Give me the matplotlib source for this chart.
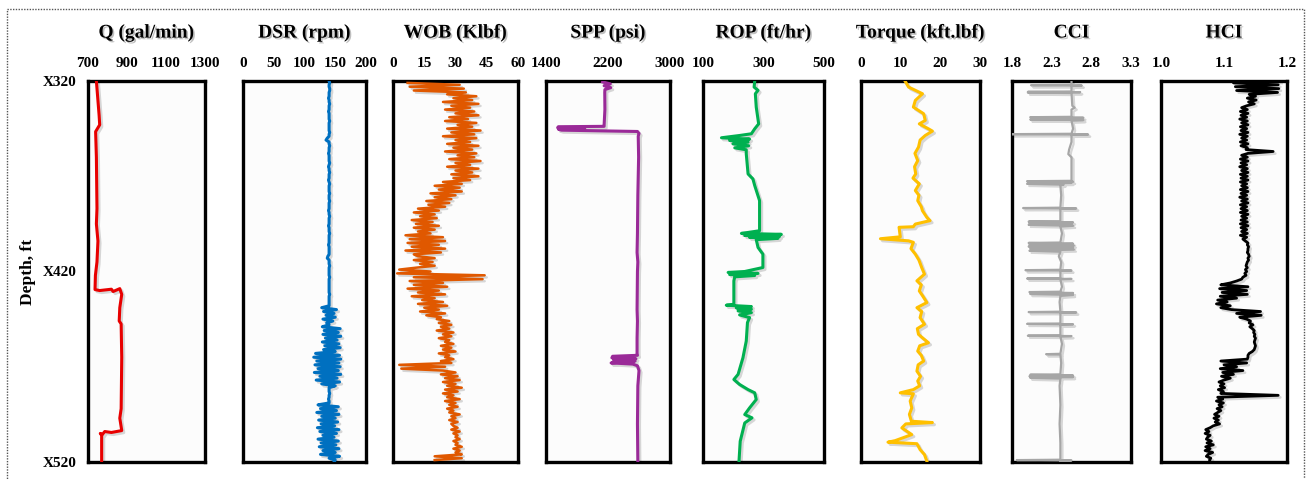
import numpy as np
import matplotlib.pyplot as plt
from matplotlib import patheffects as pe
from matplotlib.patches import Rectangle

plt.rcParams['font.family'] = ['Liberation Serif', 'DejaVu Serif']
plt.rcParams['font.weight'] = 'bold'
plt.rcParams['hatch.color'] = '#dadada'
plt.rcParams['hatch.linewidth'] = 0.6

# ---- data (depth in ft below X000) ----
q_log = [(320, 743), (338, 757), (343, 760), (346.6, 739), (360, 743), (387, 746),
         (395, 743), (404, 751), (415, 746), (422, 738), (429.5, 736), (430, 760),
         (429.3, 820), (430.5, 829), (429, 863), (432, 873), (439, 863), (446, 860),
         (447.5, 870), (465, 873), (492, 870), (497, 863), (503.5, 873), (504.5, 820),
         (504, 786), (505.5, 774), (505, 763), (506, 770), (520, 770)]

# DSR sampled every 1 ft from 320 to 520
dsr = [140, 141, 140, 140, 141, 141, 140, 140, 140, 139,
       140, 140, 141, 140, 140, 140, 139, 140, 140, 140,
       140, 141, 140, 140, 140, 140, 140, 141, 140, 140,
       137, 135, 140, 140, 141, 140, 140, 140, 139, 140,
       140, 140, 140, 141, 140, 139, 140, 140, 141, 140,
       140, 140, 139, 140, 141, 140, 140, 140, 140, 141,
       140, 140, 140, 141, 140, 140, 140, 140, 139, 140,
       140, 141, 140, 140, 140, 140, 139, 140, 140, 140,
       141, 140, 140, 140, 140, 140, 139, 140, 140, 140,
       140, 140, 138, 137, 140, 140, 140, 141, 140, 140,
       140, 140, 140, 141, 140, 140, 140, 140, 140, 140,
       140, 140, 141, 140, 140, 140, 140, 140, 140,
       128, 152, 131, 148, 135, 150, 130, 146, 136, 140,
       129, 158, 132, 155, 130, 159, 134, 153, 129, 156, 133, 158, 131, 150,
       118, 157, 115, 159, 120, 156, 117, 158, 122, 155, 116, 159, 125, 153, 119, 157, 128, 150, 140,
       140, 140, 141, 140, 140, 139, 140, 140,
       122, 155, 126, 152, 120, 156, 128, 150, 123, 154, 127, 149, 121, 156,
       125, 152, 130, 148, 122, 155, 127, 151, 124, 156, 130, 150, 126, 157,
       140, 150, 148]

# WOB sampled every 1 ft from 321
wob = [7, 32, 8, 34, 10, 35,
       26, 40, 29, 38, 24, 41, 28, 37, 25, 39,
       30, 41, 27, 36, 25, 40, 31, 38, 26, 42,
       28, 39, 24, 40, 30, 37, 26, 41, 29, 38,
       25, 40, 31, 39, 27, 42, 30, 37, 26, 41,
       30, 38, 28, 41, 29, 37, 24, 33, 20, 32,
       22, 33, 18, 30, 20, 28, 16, 27, 17, 25,
       12, 22, 10, 20, 13, 21, 9, 19, 11, 22, 10, 20, 12, 18,
       6, 24, 8, 25, 7, 22, 9, 25, 6, 23, 10,
       12, 20, 10, 19, 13, 20, 11,
       3, 18, 2,
       44, 10, 43,
       8, 24, 10, 26, 7, 22, 12, 25, 9, 20,
       14, 24, 12, 26, 15, 22, 13, 25, 16, 23,
       21, 27, 22, 28, 23, 27, 21, 29, 24, 28, 22, 27, 25, 29, 23, 28, 24, 30, 22, 27, 25, 29, 23, 28,
       3, 25, 4,
       24, 30, 23, 31, 25, 32, 24, 30, 26, 33, 25, 31, 24, 29, 26, 32, 25, 30, 27, 31, 26, 29, 27, 32, 28, 30, 27, 31, 28,
       29, 31, 28, 32, 29, 31, 30, 32, 29, 31, 30, 33, 29, 32, 30, 33, 20, 33, 20]

spp_log = [(320.5, 2130), (321.5, 2230), (322.5, 2150), (323.5, 2235), (324.5, 2160),
           (326, 2158), (335, 2160), (343, 2150), (343.8, 2150), (344, 1560), (344.5, 1550),
           (345, 1900), (345.3, 1560), (345.8, 1600), (346.2, 2150), (346.5, 2580),
           (347.5, 2600), (349, 2590), (360, 2595), (380, 2585), (400, 2580), (410, 2575),
           (415, 2585), (420, 2580), (440, 2575), (446, 2580), (455, 2575), (463, 2575),
           (464, 2580), (464.5, 2260), (465.3, 2250), (465.8, 2560), (466.3, 2270),
           (467, 2550), (468, 2240), (468.6, 2520), (469.5, 2580), (472, 2600), (480, 2585),
           (500, 2580), (520, 2585)]

rop_log = [(320, 271), (323.2, 269), (324.9, 282), (326.7, 273), (333.7, 276), (342.5, 284),
           (345.1, 271), (347.7, 260), (348.6, 221), (349.8, 161), (350.5, 254), (351.2, 188),
           (352.1, 249), (353, 199), (354, 251), (355.1, 205), (356.1, 243), (358.2, 243),
           (368.8, 249), (371.4, 265), (374.9, 271), (382.8, 287), (398.6, 287), (399.5, 249),
           (400, 227), (400.5, 359), (401.1, 238), (401.6, 353), (402.1, 254), (402.6, 348),
           (403.3, 276), (407.4, 282), (410.9, 298), (417.9, 298), (420, 238), (420.5, 183),
           (421, 282), (421.6, 188), (422.1, 271), (422.8, 205), (424.9, 202), (437.2, 202),
           (437.7, 177), (438.4, 260), (439.1, 210), (439.8, 260), (440.7, 216), (441.6, 260),
           (442.8, 221), (444.2, 254), (446.8, 247), (456.5, 243), (465.3, 232), (474, 216),
           (476.7, 202), (479.3, 221), (482, 249), (483.7, 271), (487.2, 276), (491.6, 254),
           (495.1, 238), (496.8, 262), (499.5, 238), (509.1, 223), (519.6, 219)]

torque_log = [(320, 11.1), (323.2, 12.0), (326.7, 15.5), (330.2, 13.7), (333.7, 13.2),
              (337.2, 15.8), (340.7, 16.2), (342.5, 14.7), (345.1, 17.0), (346.3, 18.0),
              (348.6, 16.2), (351, 14.9), (354.7, 14.5), (358, 13.6), (361.8, 14.3),
              (365, 13.5), (368.8, 13.8), (371, 13.1), (374, 14.7), (377.5, 13.7),
              (380, 14.6), (382.8, 14.3), (386, 15.2), (388.1, 15.5), (391.6, 16.6),
              (393.3, 17.4), (395.1, 13.7), (396.5, 13.2), (396.8, 9.6), (401.8, 9.9),
              (402.8, 4.9), (403.9, 12.0), (404.7, 13.2), (408, 12.6), (410.9, 13.7),
              (414, 14.6), (417.9, 15.3), (421.4, 16.0), (424.9, 14.1), (427, 15.2),
              (430.2, 14.7), (433, 15.6), (436.3, 16.6), (439, 14.1), (441, 15.3),
              (444.2, 14.9), (447.7, 16.0), (450, 14.2), (453, 14.5), (455, 15.6),
              (457.4, 17.0), (459, 14.8), (461.8, 14.3), (464, 15.2), (467, 15.8),
              (469, 14.4), (472.3, 14.1), (475, 15.0), (477.5, 14.3), (480, 14.8),
              (482, 13.2), (483.7, 9.9), (484.2, 13.2), (488, 12.4), (491.6, 12.8),
              (495, 12.2), (498.6, 12.7), (499.3, 18.0), (500, 11.3), (502.1, 10.3),
              (505.6, 12.8), (508.8, 8.6), (509.6, 6.8), (510.4, 14.1), (513.5, 14.9),
              (516.1, 16.0), (519.6, 16.6)]

cci_log = [(320, 2.55), (322.0, 2.55), (322.2, 2.04), (322.4, 2.68), (322.6, 2.55),
           (325.5, 2.55), (325.7, 2.00), (325.9, 2.66), (326.1, 2.00), (326.3, 2.55),
           (333, 2.56), (334, 2.59), (335, 2.55),
           (338.8, 2.55), (339.0, 2.03), (339.3, 2.70), (339.6, 2.05), (339.9, 2.68),
           (340.2, 2.03), (340.5, 2.70), (340.8, 2.55),
           (345, 2.57), (347.7, 2.55), (347.9, 1.80), (348.1, 2.76), (348.3, 2.55),
           (352, 2.55), (356, 2.52), (358.4, 2.51), (360, 2.55), (372.4, 2.55),
           (372.6, 1.99), (372.9, 2.57), (373.2, 2.00), (373.5, 2.55), (374, 1.99),
           (374.4, 2.45), (374.8, 2.41),
           (380, 2.42), (386.5, 2.41), (386.7, 1.94), (386.9, 2.61), (387.1, 2.41),
           (393.6, 2.41), (393.8, 2.01), (394.2, 2.57), (394.6, 2.02), (395.0, 2.55),
           (395.5, 2.01), (396.0, 2.57), (396.4, 2.41),
           (400, 2.43), (404.8, 2.41), (405.0, 2.01), (405.4, 2.57), (405.9, 2.02),
           (406.4, 2.58), (406.9, 2.01), (407.4, 2.57), (407.9, 2.03), (408.5, 2.58),
           (409.1, 2.02), (409.6, 2.41),
           (412, 2.39), (415, 2.42), (419.1, 2.41), (419.3, 1.97), (419.5, 2.55), (419.7, 2.41),
           (423.5, 2.41), (423.7, 1.99), (423.9, 2.55), (424.1, 2.41),
           (428, 2.43), (430.6, 2.41), (430.8, 2.02), (431.3, 2.57), (431.8, 2.03),
           (432.3, 2.57), (432.8, 2.41),
           (436, 2.40), (441.1, 2.41), (441.3, 2.01), (441.5, 2.61), (441.7, 2.41),
           (447.3, 2.41), (447.5, 1.99), (447.7, 2.57), (447.9, 2.41),
           (453.5, 2.41), (453.7, 2.00), (453.9, 2.55), (454.1, 2.41),
           (458, 2.43), (463.2, 2.41), (463.4, 2.23), (463.6, 2.41),
           (468, 2.42), (474.0, 2.41), (474.2, 2.03), (474.6, 2.57), (475.0, 2.02),
           (475.4, 2.57), (475.8, 2.03), (476.2, 2.41),
           (480, 2.40), (490, 2.41), (500, 2.40), (510, 2.41), (518.8, 2.41),
           (519.0, 1.86), (519.2, 2.55), (519.4, 2.41), (520, 2.41)]

# HCI sampled every 1 ft from 320 to 520
hci = [1.188, 1.115, 1.186, 1.118, 1.187, 1.120, 1.185,
       1.140, 1.150, 1.137, 1.151, 1.139, 1.148, 1.136,
       1.128, 1.137, 1.126, 1.138, 1.127, 1.136, 1.125, 1.137, 1.128, 1.138, 1.126, 1.136,
       1.127, 1.138, 1.125, 1.137, 1.128, 1.136, 1.126, 1.138, 1.127, 1.137, 1.135,
       1.178, 1.138,
       1.128, 1.137, 1.126, 1.138, 1.127, 1.136, 1.125, 1.137, 1.128, 1.138,
       1.126, 1.137, 1.127, 1.138, 1.126, 1.136, 1.128, 1.137, 1.126, 1.138,
       1.127, 1.136, 1.125, 1.137, 1.128, 1.138, 1.126, 1.136, 1.127, 1.137,
       1.126, 1.138, 1.128, 1.136, 1.127, 1.137, 1.126, 1.138, 1.127, 1.136,
       1.128, 1.137, 1.126, 1.136, 1.130, 1.134,
       1.138, 1.137, 1.139, 1.138, 1.138, 1.137, 1.139, 1.140, 1.138, 1.139, 1.137,
       1.136, 1.135, 1.137, 1.134, 1.136, 1.133, 1.135, 1.130, 1.128, 1.120, 1.110,
       1.095, 1.138, 1.093, 1.136, 1.097, 1.137, 1.094, 1.120,
       1.090, 1.105, 1.088, 1.110, 1.095, 1.112,
       1.158, 1.120, 1.159, 1.125,
       1.136, 1.142, 1.140, 1.146, 1.141, 1.145, 1.148, 1.147,
       1.149, 1.148, 1.150, 1.149, 1.148, 1.149, 1.150, 1.149, 1.148, 1.145,
       1.140, 1.138, 1.138, 1.137,
       1.095, 1.136, 1.100, 1.120, 1.094, 1.130, 1.098, 1.115, 1.096, 1.110, 1.100,
       1.092, 1.100, 1.094, 1.101, 1.091, 1.099, 1.095,
       1.186,
       1.090, 1.098, 1.088, 1.099, 1.092, 1.097, 1.089, 1.095,
       1.090, 1.085, 1.092, 1.084, 1.091, 1.086, 1.093, 1.083,
       1.078, 1.071, 1.076, 1.070, 1.078, 1.074,
       1.072, 1.080, 1.073, 1.083, 1.071, 1.078, 1.070, 1.082, 1.075, 1.072, 1.079, 1.077, 1.078]

q_d, q_v = np.array(q_log).T
dsr_d = 320 + np.arange(len(dsr))
wob_d = 321 + np.arange(len(wob))
spp_d, spp_v = np.array(spp_log).T
rop_d, rop_v = np.array(rop_log).T
tq_d, tq_v = np.array(torque_log).T
cci_d, cci_v = np.array(cci_log).T
hci_d = 320 + np.arange(len(hci))

# title, depth, values, x-range, ticks, tick labels, colour, line width
tracks = [
    ('Q (gal/min)', q_d, q_v, (700, 1300), [700, 900, 1100, 1300], None, '#e80000', 2.2),
    ('DSR (rpm)', dsr_d, dsr, (0, 200), [0, 50, 100, 150, 200], None, '#0070c0', 2.2),
    ('WOB (Klbf)', wob_d, wob, (0, 60), [0, 15, 30, 45, 60], None, '#e05800', 1.8),
    ('SPP (psi)', spp_d, spp_v, (1400, 3000), [1400, 2200, 3000], None, '#9a2a98', 2.2),
    ('ROP (ft/hr)', rop_d, rop_v, (100, 500), [100, 300, 500], None, '#00b050', 2.2),
    ('Torque (kft.lbf)', tq_d, tq_v, (0, 30), [0, 10, 20, 30], None, '#ffc000', 2.2),
    ('CCI', cci_d, cci_v, (1.8, 3.3), [1.8, 2.3, 2.8, 3.3], ['1.8', '2.3', '2.8', '3.3'], '#a6a6a6', 1.6),
    ('HCI', hci_d, hci, (1.0, 1.2), [1.0, 1.1, 1.2], ['1.0', '1.1', '1.2'], 'black', 2.0),
]

W, H = 1306, 479
panel_px = [(88, 205), (243, 366), (393, 518), (546, 670),
            (703, 824), (861, 980), (1012, 1131), (1161, 1287)]
top_px, bot_px = 81, 462

fig = plt.figure(figsize=(W / 100, H / 100), dpi=100)
shadow = [pe.SimplePatchShadow(offset=(1.2, -1.2), alpha=0.25), pe.Normal()]
line_shadow = [pe.SimpleLineShadow(offset=(1.5, -1.5), alpha=0.15), pe.Normal()]

for i, ((title, d, v, xr, ticks, tlabels, col, lw), (x0, x1)) in enumerate(zip(tracks, panel_px)):
    ax = fig.add_axes([x0 / W, 1 - bot_px / H, (x1 - x0) / W, (bot_px - top_px) / H])
    ax.add_patch(Rectangle((0, 0), 1, 1, transform=ax.transAxes, facecolor='#fcfcfc',
                           hatch='..', edgecolor='none', zorder=0))
    ax.plot(v, d, color=col, lw=lw, solid_joinstyle='round', path_effects=line_shadow, zorder=3)
    ax.set_xlim(*xr)
    ax.set_ylim(520, 320)
    ax.xaxis.tick_top()
    ax.set_xticks(ticks)
    if tlabels:
        ax.set_xticklabels(tlabels)
    ax.tick_params(axis='x', length=0, pad=8, labelsize=11)
    for s in ax.spines.values():
        s.set_linewidth(2.4)
    if i == 0:
        ax.set_yticks([320, 420, 520])
        ax.set_yticklabels(['X320', 'X420', 'X520'])
        ax.tick_params(axis='y', length=0, pad=8, labelsize=11)
        ax.set_ylabel('Depth, ft', fontsize=12.5, fontweight='bold', labelpad=5)
    else:
        ax.set_yticks([])
    fig.text((x0 + x1) / 2 / W, 1 - 33 / H, title, ha='center', va='center',
             fontsize=14, fontweight='bold', path_effects=shadow)

fig.add_artist(Rectangle((7 / W, -0.05), 1297 / W, 1.05 - 9 / H, transform=fig.transFigure,
                         fill=False, linestyle=(0, (1, 1)), linewidth=1.0, edgecolor='#555555'))

fig.savefig('out.png', dpi=100)
